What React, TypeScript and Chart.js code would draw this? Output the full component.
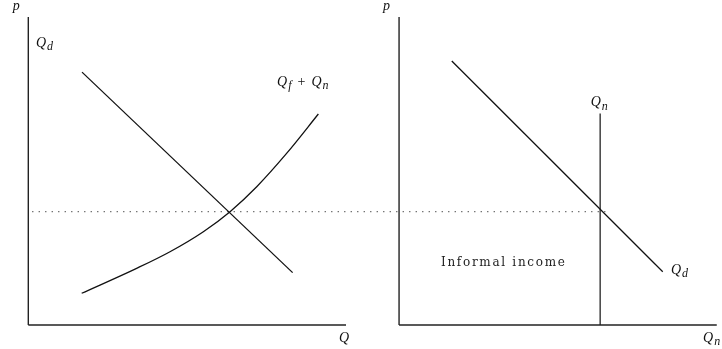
import React, { useEffect, useRef } from "react";
import { Chart, registerables } from "chart.js";

Chart.register(...registerables);

// Left panel (units: Q on x, p on y)
const leftAxisY = [{ x: 0, y: 0 }, { x: 0, y: 10 }];
const leftAxisX = [{ x: 0, y: 0 }, { x: 10, y: 0 }];
const leftDemand = [{ x: 1.69, y: 8.21 }, { x: 8.32, y: 1.7 }];
const leftSupplyQ = [1.68, 3.41, 4.46, 5.51, 6.35, 7.19, 8.13, 9.13];
const leftSupplyP = [1.03, 1.84, 2.38, 3.03, 3.68, 4.49, 5.57, 6.85];

// Right panel (relative to its own origin)
const RIGHT_OFFSET = 11.67;
const rightAxisY = [{ x: 0, y: 0 }, { x: 0, y: 10 }];
const rightAxisX = [{ x: 0, y: 0 }, { x: 10, y: 0 }];
const rightDemand = [{ x: 1.66, y: 8.57 }, { x: 8.3, y: 1.73 }];
const rightQn = [{ x: 6.33, y: 0 }, { x: 6.33, y: 6.87 }];

// Equilibrium price (dotted)
const priceLine = [{ x: 0.12, y: 3.68 }, { x: 18.31, y: 3.68 }];

type Run = { t: string; sub?: boolean; op?: boolean };
type Label = { x: number; y: number; runs: Run[] };

const labels: Label[] = [
  { x: -0.49, y: 10.23, runs: [{ t: "p" }] },
  { x: 0.24, y: 9.03, runs: [{ t: "Q" }, { t: "d", sub: true }] },
  {
    x: 7.83,
    y: 7.76,
    runs: [{ t: "Q" }, { t: "f", sub: true }, { t: "+", op: true }, { t: "Q" }, { t: "n", sub: true }],
  },
  { x: 9.78, y: -0.55, runs: [{ t: "Q" }] },
  { x: 11.165, y: 10.23, runs: [{ t: "p" }] },
  { x: 17.7, y: 7.1, runs: [{ t: "Q" }, { t: "n", sub: true }] },
  { x: 20.23, y: 1.66, runs: [{ t: "Q" }, { t: "d", sub: true }] },
  { x: 21.24, y: -0.55, runs: [{ t: "Q" }, { t: "n", sub: true }] },
];
const textLabel = { x: 12.99, y: 1.92, text: "Informal income" };

const shift = (pts: { x: number; y: number }[]) => pts.map((p) => ({ x: p.x + RIGHT_OFFSET, y: p.y }));

export default function App() {
  const ref = useRef<HTMLCanvasElement>(null);
  useEffect(() => {
    if (!ref.current) return;
    const lineDs = (data: any[], color: string, width: number, extra: any = {}) => ({
      data,
      borderColor: color,
      borderWidth: width,
      showLine: true,
      pointRadius: 0,
      fill: false,
      ...extra,
    });
    const labelPlugin = {
      id: "labels",
      afterDatasetsDraw(chart: any) {
        const ctx = chart.ctx;
        const xs = chart.scales.x;
        const ys = chart.scales.y;
        ctx.save();
        ctx.fillStyle = "#111";
        ctx.textBaseline = "alphabetic";
        ctx.textAlign = "left";
        for (const l of labels) {
          let px = xs.getPixelForValue(l.x);
          const py = ys.getPixelForValue(l.y);
          for (const r of l.runs) {
            if (r.sub) {
              ctx.font = "italic 12px 'Liberation Serif'";
              px += 1;
              ctx.fillText(r.t, px, py + 3.5);
              px += ctx.measureText(r.t).width;
            } else if (r.op) {
              ctx.font = "14px 'Liberation Serif'";
              px += 6;
              ctx.fillText(r.t, px, py);
              px += ctx.measureText(r.t).width + 6;
            } else {
              ctx.font = "italic 14px 'Liberation Serif'";
              ctx.fillText(r.t, px, py);
              px += ctx.measureText(r.t).width;
            }
          }
        }
        ctx.font = "12px 'DejaVu Serif'";
        (ctx as any).letterSpacing = "1.7px";
        ctx.fillStyle = "#222";
        ctx.fillText(textLabel.text, xs.getPixelForValue(textLabel.x), ys.getPixelForValue(textLabel.y));
        ctx.restore();
      },
    };
    const chart = new Chart(ref.current, {
      type: "scatter",
      data: {
        datasets: [
          lineDs(leftAxisY, "#222", 1.4),
          lineDs(leftAxisX, "#222", 1.4),
          lineDs(shift(rightAxisY), "#222", 1.4),
          lineDs(shift(rightAxisX), "#222", 1.4),
          lineDs(leftDemand, "#111", 1.3),
          lineDs(
            leftSupplyQ.map((q, i) => ({ x: q, y: leftSupplyP[i] })),
            "#111",
            1.3,
            { cubicInterpolationMode: "monotone" }
          ),
          lineDs(shift(rightDemand), "#111", 1.3),
          lineDs(shift(rightQn), "#333", 1.4),
          lineDs(priceLine, "#666", 1.3, { borderDash: [1.3, 5.2] }),
        ],
      },
      options: {
        animation: false,
        responsive: false,
        devicePixelRatio: 1,
        layout: { padding: 0 },
        plugins: { legend: { display: false }, tooltip: { enabled: false } },
        events: [],
        scales: {
          x: { type: "linear", min: -0.891, max: 21.835, display: false },
          y: { type: "linear", min: -0.779, max: 10.552, display: false },
        },
      },
      plugins: [labelPlugin],
    } as any);
    return () => chart.destroy();
  }, []);
  return (
    <div style={{ position: "absolute", left: 0, top: 0, width: 722, height: 349, background: "#fff" }}>
      <canvas ref={ref} width={722} height={349} style={{ width: 722, height: 349, display: "block" }} />
    </div>
  );
}
